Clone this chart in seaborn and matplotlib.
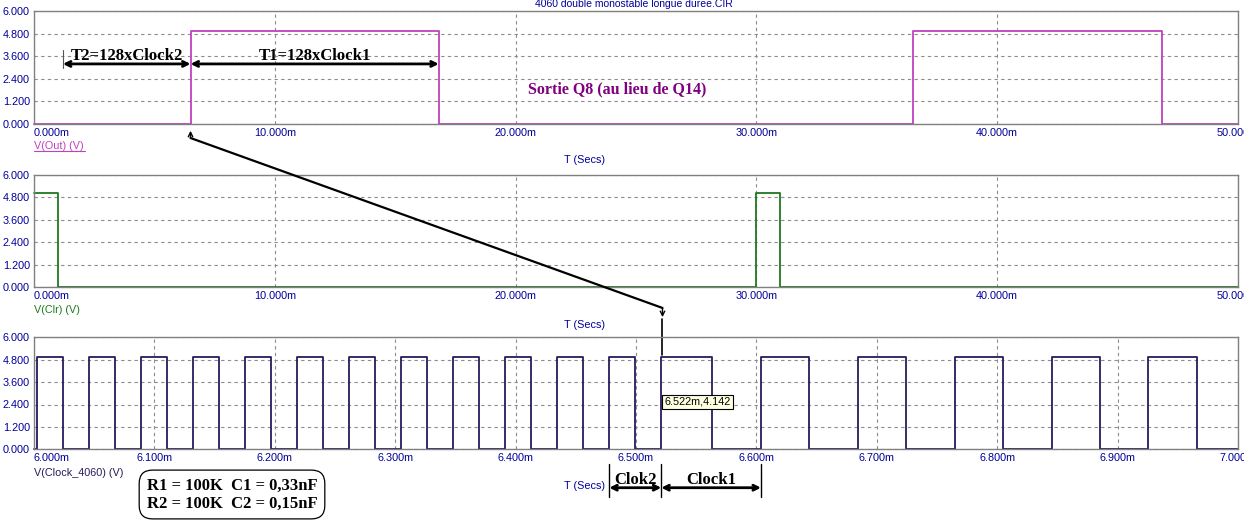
import matplotlib
matplotlib.use('Agg')
import matplotlib.pyplot as plt
import matplotlib.transforms as mtransforms
from matplotlib.patches import ConnectionPatch
import pandas as pd
import seaborn as sns

# V(Out): edge times (ms) and level held from each edge (steps-post)
out_times_ms = [0.0, 6.5, 16.81, 36.5, 46.84, 50.0]
out_levels = [0.0, 4.94, 0.0, 4.94, 0.0, 0.0]

# V(Clr)
clr_times_ms = [0.0, 0.98, 29.98, 30.97, 50.0]
clr_levels = [5.0, 0.0, 5.0, 0.0, 0.0]

# V(Clock_4060), zoom 6 ms .. 7 ms
clock_times_ms = [6.000, 6.0025, 6.0243, 6.0459, 6.0675, 6.0891, 6.1107, 6.1323,
                  6.1539, 6.1755, 6.1971, 6.2187, 6.2403, 6.2619, 6.2835, 6.3051,
                  6.3267, 6.3483, 6.3699, 6.3915, 6.4131, 6.4346, 6.4562, 6.4778,
                  6.4994, 6.5210, 6.5634, 6.6038, 6.6439, 6.6846, 6.7245, 6.7652,
                  6.8051, 6.8458, 6.8856, 6.9255, 6.9662, 7.000]
clock_levels = [0.0, 4.94, 0.0, 4.94, 0.0, 4.94, 0.0, 4.94,
                0.0, 4.94, 0.0, 4.94, 0.0, 4.94, 0.0, 4.94,
                0.0, 4.94, 0.0, 4.94, 0.0, 4.94, 0.0, 4.94,
                0.0, 4.94, 0.0, 4.94, 0.0, 4.94, 0.0, 4.94,
                0.0, 4.94, 0.0, 4.94, 0.0, 0.0]

y_ticks = [0.0, 1.2, 2.4, 3.6, 4.8, 6.0]
wide_ticks = [0, 10, 20, 30, 40, 50]
zoom_ticks = [6.0, 6.1, 6.2, 6.3, 6.4, 6.5, 6.6, 6.7, 6.8, 6.9, 7.0]

cursor_t, cursor_v = 6.522, 4.142
clok2_edges = [6.4778, 6.5210]
clock1_edges = [6.5210, 6.6038]

title = '4060 double monostable longue duree.CIR'
tick_blue = '#000099'
grid_grey = '#8c8c8c'

sns.set_theme(style='white')
plt.rcParams['font.family'] = ['Liberation Sans', 'DejaVu Sans']
serif_bold = dict(family=['Liberation Serif', 'DejaVu Serif'], weight='bold')

fig = plt.figure(figsize=(12.44, 5.23), dpi=100)
W, H = 1244, 523


def panel(top, bottom):
    return fig.add_axes([34 / W, 1 - bottom / H, 1204 / W, (bottom - top) / H])


ax1 = panel(11, 124)
ax2 = panel(174.7, 287)
ax3 = panel(337.3, 449.3)


def style(ax, xticks, xmin, xmax, fmt):
    ax.set_xlim(xmin, xmax)
    ax.set_ylim(0, 6)
    ax.set_xticks(xticks)
    ax.set_xticklabels([fmt.format(t) for t in xticks])
    ax.set_yticks(y_ticks)
    ax.set_yticklabels([f'{v:.3f}' for v in y_ticks])
    ax.tick_params(length=0, labelsize=7.8, labelcolor=tick_blue, pad=3)
    ax.get_xticklabels()[0].set_ha('left')
    ax.grid(True, color=grid_grey, linestyle=(0, (3, 3)), lw=0.8)
    for s in ax.spines.values():
        s.set_color('#808080')
        s.set_linewidth(1.0)
    ax.set_xlabel('')
    ax.set_ylabel('')


def trace(ax, times, levels, color):
    df = pd.DataFrame({'t': times, 'v': levels})
    sns.lineplot(data=df, x='t', y='v', ax=ax, color=color, lw=1.3,
                 drawstyle='steps-post', estimator=None, clip_on=False)


trace(ax1, out_times_ms, out_levels, '#c040c0')
trace(ax2, clr_times_ms, clr_levels, '#1e7b1e')
ax2.axvline(0, 0, 5 / 6, color='#1e7b1e', lw=1.3)
trace(ax3, clock_times_ms, clock_levels, '#2a1a5a')

style(ax1, wide_ticks, 0, 50, '{:.3f}m')
style(ax2, wide_ticks, 0, 50, '{:.3f}m')
style(ax3, zoom_ticks, 6.0, 7.0, '{:.3f}m')

ax1.text(0.498, 1.06, title, transform=ax1.transAxes, ha='center', va='center',
         fontsize=7.5, color=tick_blue)

for ax, name, col, yname, ysec in [(ax1, 'V(Out) (V)', '#c040c0', -0.195, -0.319),
                                   (ax2, 'V(Clr) (V)', '#1e7b1e', -0.205, -0.338),
                                   (ax3, 'V(Clock_4060) (V)', '#2a1a5a', -0.21, -0.325)]:
    ax.text(0, yname, name, transform=ax.transAxes, ha='left', va='center',
            fontsize=7.8, color=col)
    ax.text(0.457, ysec, 'T (Secs)', transform=ax.transAxes, ha='center', va='center',
            fontsize=7.8, color=tick_blue)

# underline on V(Out)
ax1.plot([0, 0.042], [-0.24, -0.24], transform=ax1.transAxes, color='#c040c0',
         lw=0.8, clip_on=False)

# T2 / T1 arrows in the top panel
t2_start, t_rise, t_fall = 1.2, out_times_ms[1], out_times_ms[2]
arrow_kw = dict(arrowstyle='<->', lw=2, color='black', shrinkA=0, shrinkB=0,
                mutation_scale=9)
ax1.annotate('', xy=(t2_start, 3.19), xytext=(t_rise, 3.19), arrowprops=arrow_kw)
ax1.annotate('', xy=(t_rise, 3.19), xytext=(t_fall, 3.19), arrowprops=arrow_kw)
ax1.plot([t2_start, t2_start], [2.97, 3.93], color='#555555', lw=0.8)
ax1.text((t2_start + t_rise) / 2, 3.62, 'T2=128xClock2', ha='center', va='center',
         fontsize=12, color='black', **serif_bold)
ax1.text((t_rise + t_fall) / 2, 3.62, 'T1=128xClock1', ha='center', va='center',
         fontsize=12, color='black', **serif_bold)
ax1.text(24.2, 1.86, 'Sortie Q8 (au lieu de Q14)', ha='center', va='center',
         fontsize=11.5, color='#800080', **serif_bold)

# link from the output edge to the clock cursor
tr1 = mtransforms.blended_transform_factory(ax1.transData, ax1.transAxes)
tr3 = mtransforms.blended_transform_factory(ax3.transData, ax3.transAxes)
con = ConnectionPatch(xyA=(t_rise, -0.124), coordsA=tr1,
                      xyB=(cursor_t, 1.262), coordsB=tr3,
                      color='black', lw=1.6)
fig.add_artist(con)
small_arrow = dict(arrowstyle='->', lw=1, color='black', shrinkA=0, shrinkB=0,
                   mutation_scale=8)
ax1.annotate('', xy=(t_rise, -0.06), xycoords=tr1, xytext=(t_rise, -0.124),
             textcoords=tr1, arrowprops=small_arrow)
ax3.annotate('', xy=(cursor_t, 1.18), xycoords=tr3, xytext=(cursor_t, 1.262),
             textcoords=tr3, arrowprops=small_arrow)
ax3.plot([cursor_t, cursor_t], [1.16, 0.84], transform=tr3, color='black', lw=1.2,
         clip_on=False)
ax3.text(cursor_t + 0.0015, 2.55, f'{cursor_t:.3f}m,{cursor_v:.3f}', ha='left',
         va='center', fontsize=7.8, color='black',
         bbox=dict(boxstyle='square,pad=0.2', fc='#ffffe1', ec='black', lw=0.8))

# Clok2 / Clock1 period markers under the zoom panel
for t in [clok2_edges[0], clok2_edges[1], clock1_edges[1]]:
    ax3.plot([t, t], [-0.131, -0.423], transform=tr3, color='black', lw=1,
             clip_on=False)
for (a, b), lab in [(clok2_edges, 'Clok2'), (clock1_edges, 'Clock1')]:
    ax3.annotate('', xy=(a, -0.343), xycoords=tr3, xytext=(b, -0.343),
                 textcoords=tr3, arrowprops=arrow_kw)
    ax3.text((a + b) / 2, -0.27, lab, transform=tr3, ha='center', va='center',
             fontsize=12, color='black', **serif_bold)

fig.text(232 / W, 1 - 494.5 / H, 'R1 = 100K  C1 = 0,33nF\nR2 = 100K  C2 = 0,15nF',
         ha='center', va='center', fontsize=12, color='black', linespacing=1.15,
         bbox=dict(boxstyle='round,pad=0.45,rounding_size=0.8', fc='white',
                   ec='black', lw=0.9), **serif_bold)

fig.savefig('out.png', dpi=100)
